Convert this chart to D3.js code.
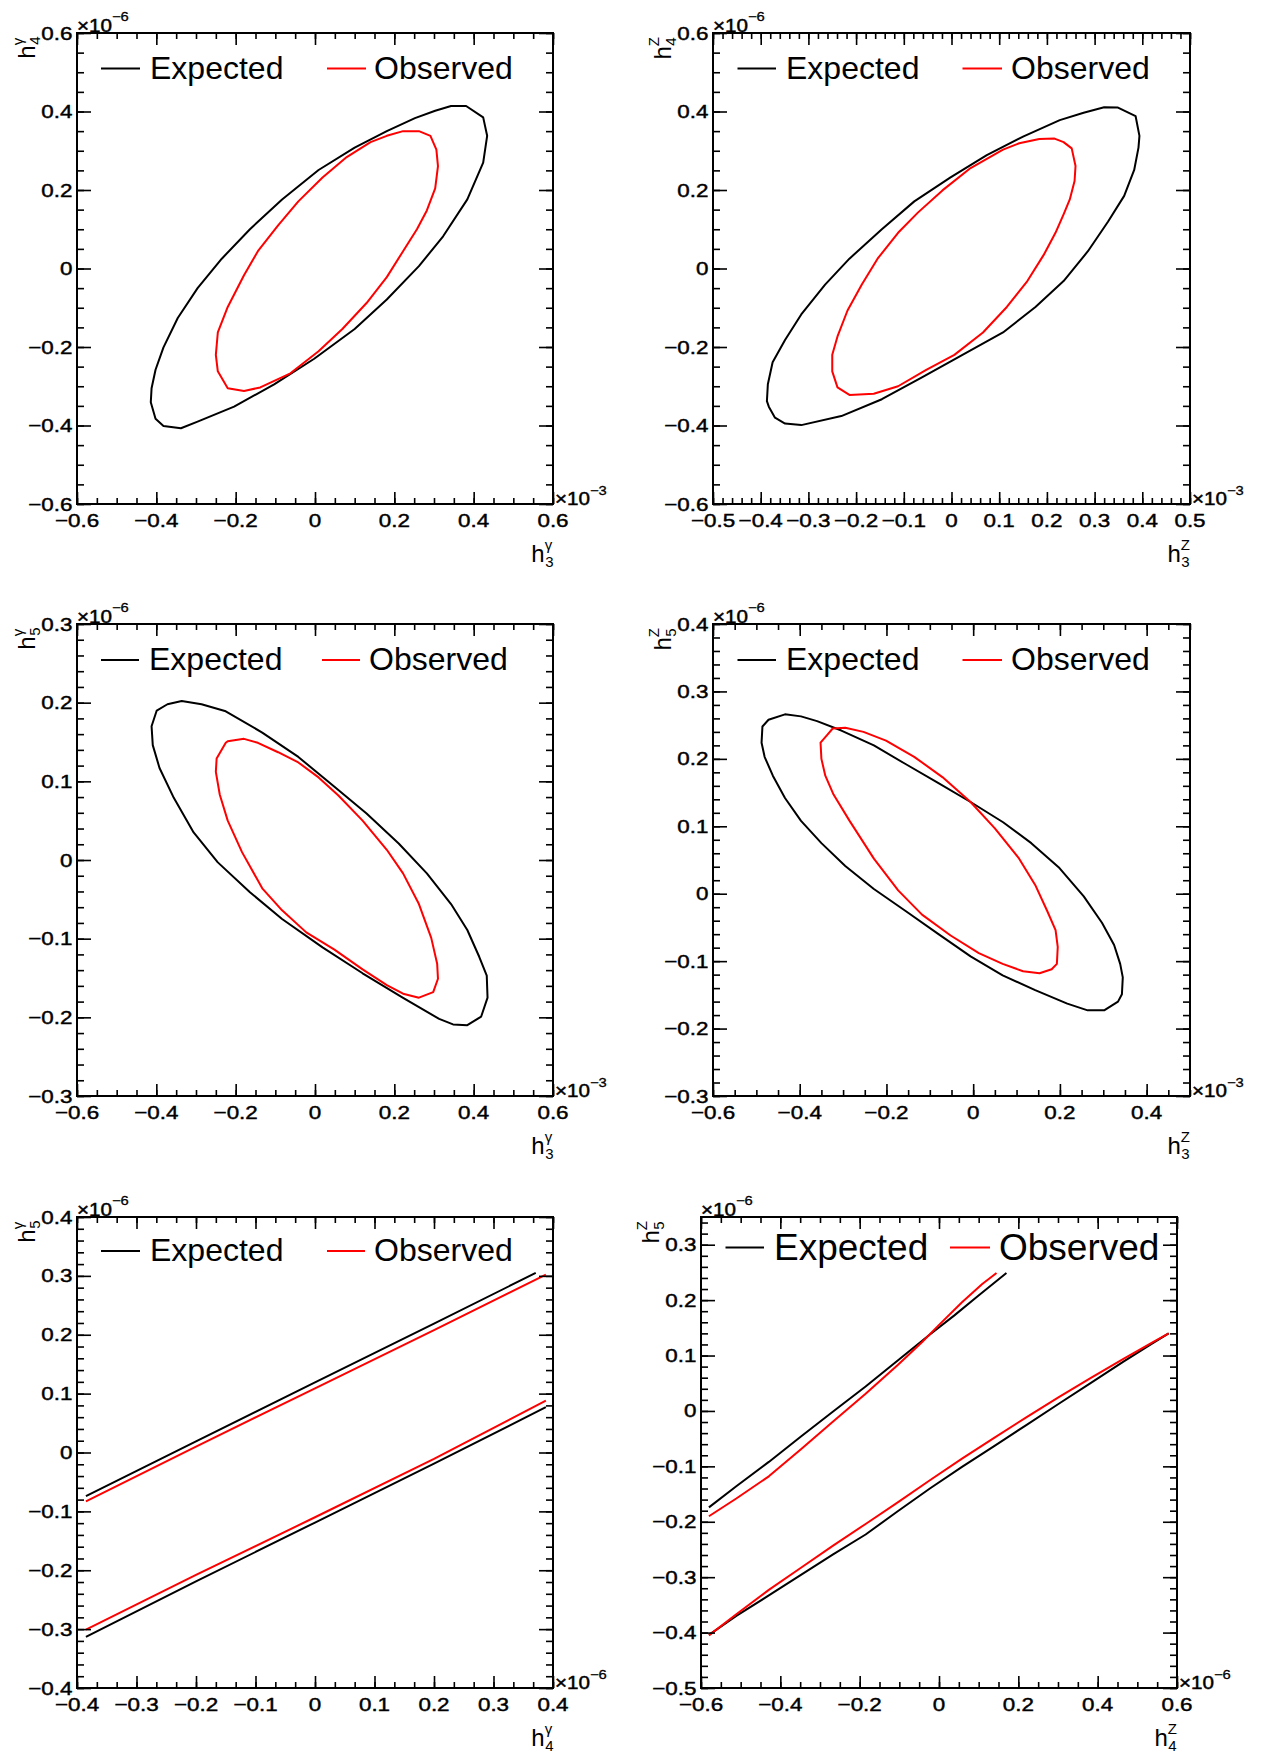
<!DOCTYPE html>
<html>
<head>
<meta charset="utf-8">
<script src="https://cdn.jsdelivr.net/npm/d3@7"></script>
<style>
body { margin: 0; background: #fff; }
text { font-family: "Liberation Sans", Arial, Helvetica, sans-serif; }
text.axislabel { stroke: #000; stroke-width: 0.45px; }
</style>
</head>
<body>
<script>
// ---- data (x in axis units of the x exponent, y in units of the y exponent) ----

// panel 1: h3 gamma (x1e-3) vs h4 gamma (x1e-6)
var p1Exp = [[0.343,0.414],[0.381,0.414],[0.424,0.385],[0.434,0.338],[0.424,0.270],[0.384,0.176],[0.323,0.082],[0.262,0.006],[0.181,-0.079],[0.100,-0.154],[-0.002,-0.230],[-0.103,-0.295],[-0.204,-0.352],[-0.296,-0.390],[-0.338,-0.407],[-0.382,-0.401],[-0.402,-0.383],[-0.414,-0.341],[-0.412,-0.305],[-0.402,-0.258],[-0.382,-0.201],[-0.346,-0.126],[-0.296,-0.050],[-0.235,0.025],[-0.164,0.100],[-0.083,0.176],[0.009,0.251],[0.100,0.308],[0.181,0.350],[0.252,0.383],[0.303,0.402]];
var p1Obs = [[0.222,0.350],[0.262,0.350],[0.291,0.338],[0.306,0.303],[0.310,0.261],[0.303,0.204],[0.282,0.148],[0.257,0.100],[0.222,0.044],[0.181,-0.022],[0.130,-0.088],[0.069,-0.154],[0.009,-0.211],[-0.062,-0.267],[-0.138,-0.303],[-0.179,-0.312],[-0.220,-0.305],[-0.245,-0.262],[-0.250,-0.220],[-0.245,-0.163],[-0.220,-0.098],[-0.179,-0.017],[-0.144,0.044],[-0.093,0.110],[-0.042,0.171],[0.019,0.232],[0.080,0.284],[0.140,0.322],[0.181,0.338]];

// panel 2: h3 Z vs h4 Z
var p2Exp = [[0.320,0.411],[0.349,0.410],[0.386,0.388],[0.394,0.338],[0.392,0.308],[0.383,0.251],[0.362,0.185],[0.328,0.119],[0.286,0.044],[0.235,-0.032],[0.176,-0.098],[0.108,-0.163],[0.023,-0.220],[-0.061,-0.277],[-0.146,-0.333],[-0.231,-0.376],[-0.315,-0.399],[-0.349,-0.395],[-0.370,-0.380],[-0.383,-0.352],[-0.387,-0.338],[-0.385,-0.295],[-0.375,-0.239],[-0.349,-0.182],[-0.315,-0.117],[-0.265,-0.041],[-0.214,0.025],[-0.146,0.100],[-0.078,0.171],[-0.002,0.232],[0.074,0.289],[0.150,0.336],[0.227,0.378],[0.277,0.397]];
var p2Obs = [[0.184,0.330],[0.216,0.331],[0.235,0.322],[0.252,0.306],[0.260,0.261],[0.258,0.223],[0.248,0.176],[0.235,0.138],[0.218,0.091],[0.193,0.034],[0.159,-0.032],[0.116,-0.098],[0.066,-0.163],[0.006,-0.220],[-0.053,-0.258],[-0.112,-0.300],[-0.163,-0.319],[-0.214,-0.322],[-0.239,-0.303],[-0.250,-0.262],[-0.250,-0.220],[-0.239,-0.173],[-0.218,-0.107],[-0.188,-0.041],[-0.155,0.025],[-0.112,0.091],[-0.070,0.143],[-0.019,0.199],[0.040,0.256],[0.108,0.303],[0.142,0.319]];

// panel 3: h3 gamma vs h5 gamma
var p3Exp = [[-0.336,0.202],[-0.372,0.198],[-0.399,0.190],[-0.412,0.170],[-0.409,0.146],[-0.392,0.117],[-0.356,0.079],[-0.306,0.035],[-0.245,-0.003],[-0.164,-0.041],[-0.083,-0.075],[0.019,-0.111],[0.120,-0.144],[0.221,-0.175],[0.313,-0.202],[0.348,-0.209],[0.384,-0.210],[0.419,-0.199],[0.435,-0.175],[0.433,-0.147],[0.414,-0.123],[0.384,-0.089],[0.343,-0.056],[0.282,-0.017],[0.211,0.021],[0.130,0.059],[0.049,0.093],[-0.042,0.131],[-0.133,0.162],[-0.225,0.189],[-0.286,0.198]];
var p3Obs = [[-0.220,0.151],[-0.179,0.154],[-0.144,0.149],[-0.093,0.137],[-0.042,0.124],[0.009,0.105],[0.059,0.082],[0.120,0.050],[0.181,0.013],[0.222,-0.017],[0.262,-0.056],[0.293,-0.099],[0.308,-0.132],[0.310,-0.151],[0.298,-0.168],[0.262,-0.175],[0.222,-0.170],[0.181,-0.159],[0.120,-0.139],[0.049,-0.114],[-0.022,-0.092],[-0.083,-0.064],[-0.133,-0.036],[-0.184,0.010],[-0.220,0.050],[-0.240,0.083],[-0.250,0.112],[-0.248,0.129],[-0.225,0.149]];

// panel 4: h3 Z vs h5 Z
var p4Exp = [[-0.434,0.266],[-0.472,0.258],[-0.486,0.248],[-0.488,0.224],[-0.481,0.203],[-0.462,0.175],[-0.434,0.142],[-0.397,0.108],[-0.350,0.075],[-0.295,0.041],[-0.229,0.007],[-0.155,-0.026],[-0.080,-0.060],[-0.006,-0.093],[0.068,-0.121],[0.143,-0.143],[0.217,-0.163],[0.264,-0.173],[0.302,-0.173],[0.334,-0.160],[0.343,-0.149],[0.345,-0.124],[0.339,-0.104],[0.325,-0.076],[0.297,-0.043],[0.255,-0.004],[0.199,0.038],[0.134,0.075],[0.069,0.106],[-0.006,0.136],[-0.080,0.164],[-0.155,0.192],[-0.229,0.220],[-0.304,0.242],[-0.360,0.256],[-0.397,0.263]];
var p4Obs = [[-0.324,0.245],[-0.295,0.246],[-0.253,0.240],[-0.201,0.227],[-0.136,0.203],[-0.071,0.173],[-0.006,0.136],[0.050,0.097],[0.106,0.052],[0.143,0.013],[0.171,-0.026],[0.190,-0.054],[0.195,-0.079],[0.193,-0.104],[0.181,-0.112],[0.153,-0.118],[0.115,-0.115],[0.068,-0.104],[0.013,-0.088],[-0.052,-0.062],[-0.118,-0.031],[-0.173,0.005],[-0.229,0.052],[-0.285,0.108],[-0.322,0.147],[-0.341,0.175],[-0.350,0.200],[-0.352,0.224],[-0.336,0.236]];

// panel 5: h4 gamma (x1e-6) vs h5 gamma; two open bands
var p5ExpUpper = [[-0.385,-0.074],[-0.200,0.019],[0.000,0.119],[0.200,0.219],[0.371,0.305]];
var p5ExpLower = [[-0.385,-0.313],[-0.200,-0.219],[0.000,-0.119],[0.200,-0.019],[0.388,0.077]];
var p5ObsUpper = [[-0.385,-0.083],[-0.200,0.010],[0.000,0.109],[0.200,0.208],[0.388,0.302]];
var p5ObsLower = [[-0.385,-0.301],[-0.200,-0.208],[0.000,-0.110],[0.200,-0.011],[0.388,0.088]];

// panel 6: h4 Z vs h5 Z
var p6ExpUpper = [[-0.580,-0.174],[-0.511,-0.136],[-0.429,-0.092],[-0.348,-0.046],[-0.267,-0.001],[-0.185,0.044],[-0.104,0.091],[-0.023,0.138],[0.038,0.172],[0.099,0.208],[0.170,0.249]];
var p6ObsUpper = [[-0.580,-0.190],[-0.511,-0.158],[-0.429,-0.118],[-0.348,-0.069],[-0.267,-0.019],[-0.185,0.031],[-0.104,0.083],[-0.043,0.124],[-0.003,0.153],[0.058,0.196],[0.109,0.229],[0.145,0.249]];
var p6ExpLower = [[-0.580,-0.404],[-0.511,-0.370],[-0.429,-0.333],[-0.348,-0.296],[-0.267,-0.259],[-0.185,-0.223],[-0.104,-0.181],[-0.023,-0.140],[0.058,-0.101],[0.140,-0.063],[0.221,-0.025],[0.302,0.013],[0.384,0.051],[0.465,0.089],[0.536,0.121],[0.579,0.140]];
var p6ObsLower = [[-0.580,-0.405],[-0.511,-0.367],[-0.429,-0.323],[-0.348,-0.283],[-0.267,-0.243],[-0.185,-0.204],[-0.104,-0.165],[-0.023,-0.125],[0.058,-0.086],[0.140,-0.048],[0.221,-0.011],[0.302,0.025],[0.384,0.060],[0.465,0.094],[0.536,0.123],[0.579,0.140]];

// axis ranges and major tick labels
var xDomains = [[-0.6,0.6],[-0.5,0.5],[-0.6,0.6],[-0.6,0.5],[-0.4,0.4],[-0.6,0.6]];
var yDomains = [[-0.6,0.6],[-0.6,0.6],[-0.3,0.3],[-0.3,0.4],[-0.4,0.4],[-0.5,0.35]];
var xMajor = [
  [-0.6,-0.4,-0.2,0,0.2,0.4,0.6],
  [-0.5,-0.4,-0.3,-0.2,-0.1,0,0.1,0.2,0.3,0.4,0.5],
  [-0.6,-0.4,-0.2,0,0.2,0.4,0.6],
  [-0.6,-0.4,-0.2,0,0.2,0.4],
  [-0.4,-0.3,-0.2,-0.1,0,0.1,0.2,0.3,0.4],
  [-0.6,-0.4,-0.2,0,0.2,0.4,0.6]
];
var yMajor = [
  [-0.6,-0.4,-0.2,0,0.2,0.4,0.6],
  [-0.6,-0.4,-0.2,0,0.2,0.4,0.6],
  [-0.3,-0.2,-0.1,0,0.1,0.2,0.3],
  [-0.3,-0.2,-0.1,0,0.1,0.2,0.3,0.4],
  [-0.4,-0.3,-0.2,-0.1,0,0.1,0.2,0.3,0.4],
  [-0.5,-0.4,-0.3,-0.2,-0.1,0,0.1,0.2,0.3]
];
var xMinorDiv = [4, 5, 4, 4, 3, 4];
var yMinorDiv = [4, 4, 5, 5, 5, 5];
var xExponent = ["\u22123", "\u22123", "\u22123", "\u22123", "\u22126", "\u22126"];
var xTitles = [["\u03b3","3"],["Z","3"],["\u03b3","3"],["Z","3"],["\u03b3","4"],["Z","4"]];
var yTitles = [["\u03b3","4"],["Z","4"],["\u03b3","5"],["Z","5"],["\u03b3","5"],["Z","5"]];
var legendLabels = ["Expected", "Observed"];

var expectedCurves = [[p1Exp],[p2Exp],[p3Exp],[p4Exp],[p5ExpUpper,p5ExpLower],[p6ExpUpper,p6ExpLower]];
var observedCurves = [[p1Obs],[p2Obs],[p3Obs],[p4Obs],[p5ObsUpper,p5ObsLower],[p6ObsUpper,p6ObsLower]];
var closedCurves = [true, true, true, true, false, false];

// ---- layout ----
var frames = [
  [77, 33, 553, 504], [713, 33, 1190, 504],
  [77, 624, 553, 1096], [713, 624, 1190, 1096],
  [77, 1217, 553, 1688], [701, 1217, 1177, 1688]
];
var legends = [
  {l0: 24, l1: 63, ly: 35.5, tx: 73, ty: 45.5, r0: 250, r1: 289, ox: 297, fs: 32},
  {l0: 24.5, l1: 63, ly: 35.5, tx: 73, ty: 45.5, r0: 249.5, r1: 289, ox: 298, fs: 32},
  {l0: 24, l1: 62, ly: 36, tx: 72, ty: 45.7, r0: 245, r1: 283, ox: 292, fs: 32},
  {l0: 24.5, l1: 63, ly: 36, tx: 73, ty: 45.7, r0: 249.5, r1: 289, ox: 298, fs: 32},
  {l0: 24, l1: 63, ly: 34, tx: 73, ty: 44.4, r0: 250, r1: 288, ox: 297, fs: 32},
  {l0: 24.5, l1: 63, ly: 30.6, tx: 73, ty: 42.5, r0: 249, r1: 289, ox: 298, fs: 37}
];
var LABEL_STRETCH = 1.18;  // ROOT's axis font renders wider than Liberation Sans

var svg = d3.select("body").append("svg")
  .attr("width", 1265)
  .attr("height", 1754)
  .style("background", "#fff");

function fmt(v) {
  if (v === 0) return "0";
  return (v < 0 ? "\u2212" : "") + String(Math.abs(v));
}

function minorTicks(domain, major, div) {
  var step = (major[1] - major[0]) / div;
  var out = [];
  var i0 = Math.ceil(domain[0] / step - 1e-6), i1 = Math.floor(domain[1] / step + 1e-6);
  for (var i = i0; i <= i1; i++) out.push(i * step);
  return out;
}

// h with stacked superscript / subscript, anchored at its right end
function hTitle(g, sup, sub) {
  var inner = g.append("g");
  var h = inner.append("text").attr("x", 0).attr("y", 0)
    .style("font-size", "24px").text("h");
  var hw = h.node().getComputedTextLength();
  var s1 = inner.append("text").attr("x", hw).attr("y", -12)
    .style("font-size", "15px").text(sup);
  var s2 = inner.append("text").attr("x", hw + 0.5).attr("y", 5)
    .style("font-size", "15px").text(sub);
  var w = hw + Math.max(s1.node().getComputedTextLength(), s2.node().getComputedTextLength());
  inner.attr("transform", "translate(" + (-w) + ",0)");
}

function exponent(g, x, y, power) {
  var t = g.append("text").attr("class", "axislabel")
    .attr("transform", "translate(" + x + "," + y + ") scale(" + LABEL_STRETCH + ",1)")
    .style("font-size", "17.5px");
  t.append("tspan").text("\u00d710");
  t.append("tspan").attr("dy", -10.5).style("font-size", "12.5px")
    .style("stroke-width", "0.3px").text(power);
}

var line = d3.line();   // ROOT draws contours as plain polylines

frames.forEach(function(f, k) {
  var left = f[0], top = f[1], right = f[2], bottom = f[3];
  var x = d3.scaleLinear().domain(xDomains[k]).range([left, right]);
  var y = d3.scaleLinear().domain(yDomains[k]).range([bottom, top]);
  var g = svg.append("g");

  g.append("clipPath").attr("id", "clip" + k)
    .append("rect").attr("x", left).attr("y", top)
    .attr("width", right - left).attr("height", bottom - top);

  // curves
  var curves = g.append("g").attr("clip-path", "url(#clip" + k + ")")
    .attr("fill", "none").attr("stroke-width", 2).attr("stroke-linejoin", "round");
  [[expectedCurves[k], "#000"], [observedCurves[k], "#ff0000"]].forEach(function(set) {
    set[0].forEach(function(pts) {
      curves.append("path")
        .attr("stroke", set[1])
        .attr("d", line(pts.map(function(p) { return [x(p[0]), y(p[1])]; })) + (closedCurves[k] ? "Z" : ""));
    });
  });

  // ticks on all four sides, pointing inward
  var xMin = minorTicks(xDomains[k], xMajor[k], xMinorDiv[k]);
  var yMin = minorTicks(yDomains[k], yMajor[k], yMinorDiv[k]);
  var axes = [
    [d3.axisBottom(x), [0, bottom], xMin, xMajor[k], 6, 12],
    [d3.axisTop(x), [0, top], xMin, xMajor[k], 6, 12],
    [d3.axisLeft(y), [left, 0], yMin, yMajor[k], 7, 14],
    [d3.axisRight(y), [right, 0], yMin, yMajor[k], 7, 14]
  ];
  axes.forEach(function(a) {
    [[a[2], a[4]], [a[3], a[5]]].forEach(function(t) {
      g.append("g")
        .attr("transform", "translate(" + a[1][0] + "," + a[1][1] + ")")
        .call(a[0].tickValues(t[0]).tickSize(-t[1]).tickFormat(""))
        .call(function(s) { s.select(".domain").remove(); })
        .selectAll("line").attr("stroke-width", 1.6);
    });
  });

  // tick labels
  g.append("g").selectAll("text").data(xMajor[k]).join("text")
    .attr("class", "axislabel")
    .attr("transform", function(d) {
      return "translate(" + x(d) + "," + (bottom + 22.5) + ") scale(" + LABEL_STRETCH + ",1)";
    })
    .attr("text-anchor", "middle")
    .style("font-size", "19px")
    .text(fmt);
  g.append("g").selectAll("text").data(yMajor[k]).join("text")
    .attr("class", "axislabel")
    .attr("transform", function(d) {
      return "translate(" + (left - 4.5) + "," + (y(d) + 6.5) + ") scale(" + LABEL_STRETCH + ",1)";
    })
    .attr("text-anchor", "end")
    .style("font-size", "19px")
    .text(fmt);

  // frame
  g.append("rect")
    .attr("x", left).attr("y", top)
    .attr("width", right - left).attr("height", bottom - top)
    .attr("fill", "none").attr("stroke", "#000").attr("stroke-width", 2);

  // exponents
  exponent(g, left, top - 1.5, "\u22126");
  exponent(g, right + 2, bottom + 1, xExponent[k]);

  // axis titles
  hTitle(g.append("g").attr("transform", "translate(" + right + "," + (bottom + 58) + ")"),
    xTitles[k][0], xTitles[k][1]);
  hTitle(g.append("g").attr("transform", "translate(" + (left - 42) + "," + (top + 4) + ") rotate(-90)"),
    yTitles[k][0], yTitles[k][1]);

  // legend
  var L = legends[k];
  g.append("line").attr("x1", left + L.l0).attr("x2", left + L.l1)
    .attr("y1", top + L.ly).attr("y2", top + L.ly)
    .attr("stroke", "#000").attr("stroke-width", 2);
  g.append("text").attr("x", left + L.tx).attr("y", top + L.ty)
    .style("font-size", L.fs + "px").text(legendLabels[0]);
  g.append("line").attr("x1", left + L.r0).attr("x2", left + L.r1)
    .attr("y1", top + L.ly).attr("y2", top + L.ly)
    .attr("stroke", "#ff0000").attr("stroke-width", 2);
  g.append("text").attr("x", left + L.ox).attr("y", top + L.ty)
    .style("font-size", L.fs + "px").text(legendLabels[1]);
});
</script>
</body>
</html>
